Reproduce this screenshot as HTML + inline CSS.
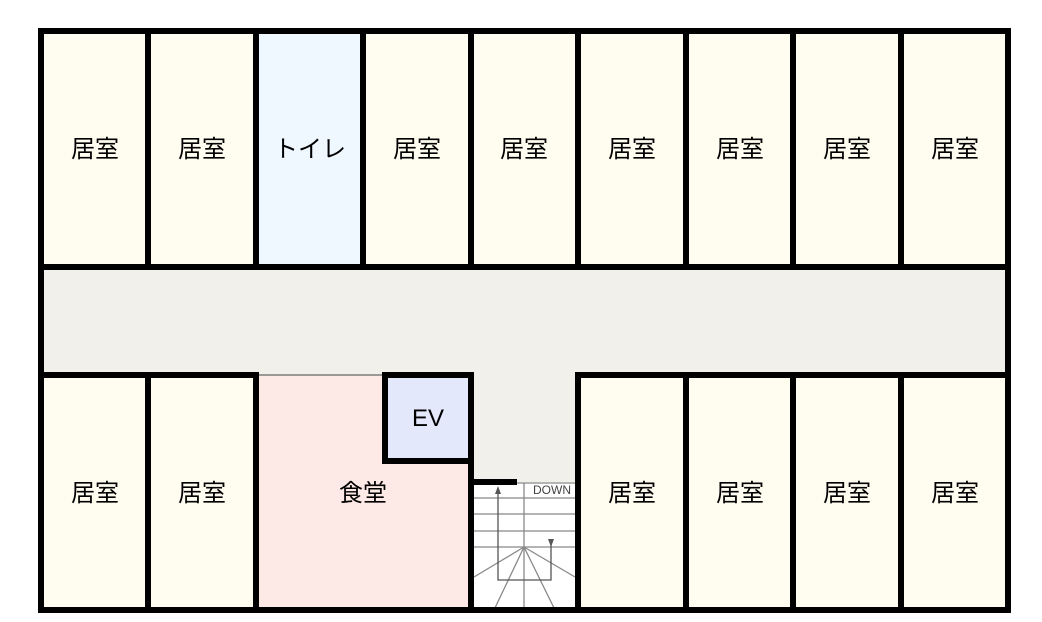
<!DOCTYPE html>
<html><head><meta charset="utf-8"><style>
html,body{margin:0;padding:0;background:#fff;}
svg{display:block}
text{font-family:"Liberation Sans","Noto Sans CJK JP",sans-serif;}
</style></head><body>
<svg width="1042" height="622" viewBox="0 0 1042 622" xmlns="http://www.w3.org/2000/svg">
<rect x="0" y="0" width="1042" height="622" fill="#fff"/>
<rect x="41" y="31" width="967" height="236" fill="#fffcf0"/>
<rect x="256" y="31" width="107" height="236" fill="#f0f8ff"/>
<rect x="41" y="267" width="967" height="108" fill="#f2f0ea"/>
<rect x="41" y="375" width="967" height="235" fill="#fffcf0"/>
<rect x="256" y="375" width="215" height="235" fill="#fdeae6"/>
<rect x="385" y="375" width="86" height="86" fill="#e3e8fb"/>
<rect x="471" y="375" width="107" height="107" fill="#f2f0ea"/>
<rect x="471" y="482" width="107" height="128" fill="#fff"/>
<g stroke="#888" stroke-width="1.3" fill="none">
<line x1="474" y1="483" x2="575" y2="483"/>
<line x1="474" y1="498" x2="575" y2="498"/>
<line x1="474" y1="514" x2="575" y2="514"/>
<line x1="474" y1="531" x2="575" y2="531"/>
<line x1="474" y1="547" x2="575" y2="547"/>
<line x1="524" y1="483" x2="524" y2="610"/>
<line x1="524" y1="547" x2="474" y2="577"/>
<line x1="524" y1="547" x2="494" y2="610"/>
<line x1="524" y1="547" x2="555" y2="610"/>
<line x1="524" y1="547" x2="575" y2="577"/>
</g>
<g stroke="#555" stroke-width="1.3" fill="none">
<polyline points="498,490 498,580 551,580 551,540"/>
</g>
<polygon points="498,486 495,494 501,494" fill="#555"/>
<polygon points="551,547 548,539 554,539" fill="#555"/>
<text x="552" y="494" font-size="12" fill="#444" text-anchor="middle">DOWN</text>
<line x1="256" y1="375" x2="385" y2="375" stroke="#666" stroke-width="1.3"/>
<g stroke="#000" stroke-width="6" fill="none" stroke-linecap="square">
<rect x="41" y="31" width="967" height="579"/>
<line x1="41" y1="267" x2="1008" y2="267"/>
<line x1="41" y1="375" x2="256" y2="375"/>
<line x1="578" y1="375" x2="1008" y2="375"/>
<line x1="148" y1="31" x2="148" y2="267"/>
<line x1="256" y1="31" x2="256" y2="267"/>
<line x1="363" y1="31" x2="363" y2="267"/>
<line x1="471" y1="31" x2="471" y2="267"/>
<line x1="578" y1="31" x2="578" y2="267"/>
<line x1="686" y1="31" x2="686" y2="267"/>
<line x1="793" y1="31" x2="793" y2="267"/>
<line x1="901" y1="31" x2="901" y2="267"/>
<line x1="148" y1="375" x2="148" y2="610"/>
<line x1="256" y1="375" x2="256" y2="610"/>
<rect x="385" y="375" width="86" height="86"/>
<line x1="471" y1="461" x2="471" y2="610"/>
<line x1="471" y1="482" x2="514" y2="482"/>
<line x1="578" y1="375" x2="578" y2="610"/>
<line x1="686" y1="375" x2="686" y2="610"/>
<line x1="793" y1="375" x2="793" y2="610"/>
<line x1="901" y1="375" x2="901" y2="610"/>
</g>
<g font-size="24" fill="#000" text-anchor="middle">
<text x="95" y="157">居室</text>
<text x="202" y="157">居室</text>
<text x="310" y="157">トイレ</text>
<text x="417" y="157">居室</text>
<text x="524" y="157">居室</text>
<text x="632" y="157">居室</text>
<text x="740" y="157">居室</text>
<text x="847" y="157">居室</text>
<text x="955" y="157">居室</text>
<text x="95" y="501">居室</text>
<text x="202" y="501">居室</text>
<text x="363" y="501">食堂</text>
<text x="428" y="426">EV</text>
<text x="632" y="501">居室</text>
<text x="740" y="501">居室</text>
<text x="847" y="501">居室</text>
<text x="955" y="501">居室</text>
</g>
</svg>
</body></html>
